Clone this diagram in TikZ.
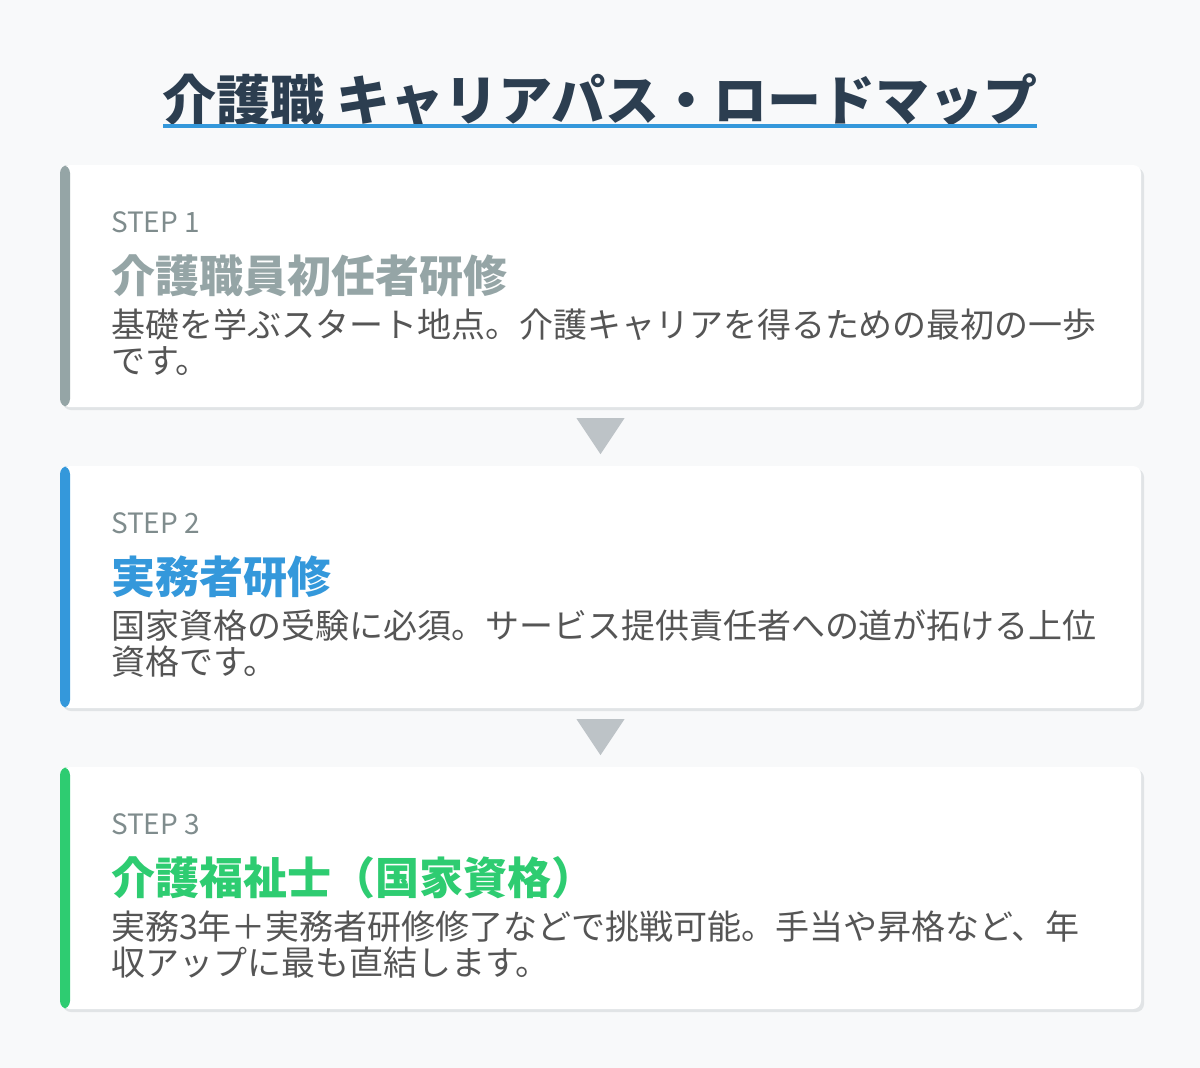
\documentclass[tikz,border=0pt]{standalone}
\usepackage{fontspec}
\setmainfont{Noto Sans CJK JP}
\usetikzlibrary{shadows}
\definecolor{bgc}{HTML}{F8F9FA}
\definecolor{titlec}{HTML}{2C3E50}
\definecolor{cgrey}{HTML}{95A5A6}
\definecolor{cblue}{HTML}{3498DB}
\definecolor{cgreen}{HTML}{2ECC71}
\definecolor{stepc}{HTML}{7F8C8D}
\definecolor{descc}{HTML}{555555}
\definecolor{arrowc}{HTML}{BDC3C7}
\definecolor{shadowc}{HTML}{E1E4E6}
\tikzset{
  card/.style={rectangle, rounded corners=8pt, fill=white, inner sep=0pt,
    minimum width=1081pt, minimum height=242pt,
    general shadow={fill=shadowc, shadow xshift=3pt, shadow yshift=-3pt},
    path picture={\fill[#1] (path picture bounding box.north west) rectangle ([xshift=10pt]path picture bounding box.south west);}},
  steplabel/.style={anchor=base west, inner sep=0pt, text=stepc, font=\fontsize{28}{32}\selectfont},
  heading/.style={anchor=base west, inner sep=0pt, text=#1, font=\bfseries\fontsize{44}{50}\selectfont},
  desc/.style={anchor=base west, inner sep=0pt, text=descc, font=\fontsize{34}{36}\selectfont},
  arrowtri/.style={fill=arrowc}
}
\begin{document}
\begin{tikzpicture}[x=1pt,y=-1pt]
\useasboundingbox (0,0) rectangle (1200,1068);
\fill[bgc] (0,0) rectangle (1200,1068);

\node[anchor=base, inner sep=0pt, text=titlec, font=\bfseries\fontsize{54}{60}\selectfont] (title) at (600,120) {介護職 キャリアパス・ロードマップ};
\fill[cblue] (163,124) rectangle (1037,128);

\node[card=cgrey] (card1) at (600.5,286) {};
\node[card=cblue] (card2) at (600.5,587) {};
\node[card=cgreen] (card3) at (600.5,888) {};

\node[steplabel] (s1) at ([shift={(51,68)}]card1.north west) {STEP 1};
\node[heading=cgrey] (h1) at ([shift={(51,128)}]card1.north west) {介護職員初任者研修};
\node[desc] (d1a) at ([shift={(51,173)}]card1.north west) {基礎を学ぶスタート地点。介護キャリアを得るための最初の一歩};
\node[desc] (d1b) at ([shift={(51,209)}]card1.north west) {です。};

\node[steplabel] (s2) at ([shift={(51,68)}]card2.north west) {STEP 2};
\node[heading=cblue] (h2) at ([shift={(51,128)}]card2.north west) {実務者研修};
\node[desc] (d2a) at ([shift={(51,173)}]card2.north west) {国家資格の受験に必須。サービス提供責任者への道が拓ける上位};
\node[desc] (d2b) at ([shift={(51,209)}]card2.north west) {資格です。};

\node[steplabel] (s3) at ([shift={(51,68)}]card3.north west) {STEP 3};
\node[heading=cgreen] (h3) at ([shift={(51,128)}]card3.north west) {介護福祉士（国家資格）};
\node[desc] (d3a) at ([shift={(51,173)}]card3.north west) {実務3年＋実務者研修修了などで挑戦可能。手当や昇格など、年};
\node[desc] (d3b) at ([shift={(51,209)}]card3.north west) {収アップに最も直結します。};

\fill[arrowtri] ([shift={(-24,11)}]card1.south) -- ([shift={(24,11)}]card1.south) -- ([shift={(0,47)}]card1.south) -- cycle;
\fill[arrowtri] ([shift={(-24,11)}]card2.south) -- ([shift={(24,11)}]card2.south) -- ([shift={(0,47)}]card2.south) -- cycle;
\end{tikzpicture}
\end{document}
